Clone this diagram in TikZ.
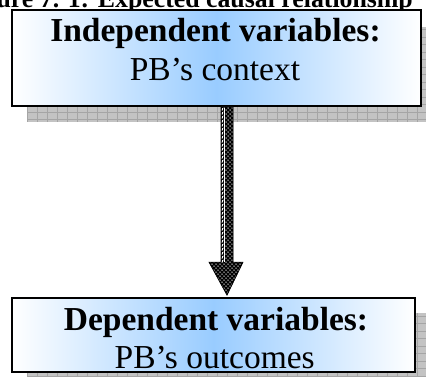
\documentclass[tikz,border=0pt]{standalone}
\usepackage{fontspec}
\setmainfont{Liberation Serif}
\usetikzlibrary{patterns,calc}
\pgfdeclarepatternformonly{wdots}{\pgfpoint{-1.5pt}{-1.5pt}}{\pgfpoint{5.5pt}{5.5pt}}{\pgfpoint{4pt}{4pt}}{%
  \pgfpathcircle{\pgfpoint{0pt}{0pt}}{0.75pt}%
  \pgfpathcircle{\pgfpoint{2pt}{2pt}}{0.75pt}%
  \pgfusepath{fill}}
\definecolor{boxblue}{RGB}{153,204,255}
\definecolor{shadowgray}{RGB}{195,195,195}
\definecolor{gridgray}{RGB}{165,165,165}
\definecolor{arrowshadow}{RGB}{128,128,128}
\tikzset{
  varbox/.style={draw=black, line width=1.6pt, left color=white, right color=white, middle color=boxblue, inner sep=0pt},
  shadowbox/.style={fill=shadowgray},
  headtext/.style={anchor=base, font=\fontsize{33.5}{39}\selectfont\bfseries},
  subtext/.style={anchor=base, font=\fontsize{33.5}{39}\selectfont},
  titletext/.style={anchor=base east, font=\fontsize{25.8}{30}\selectfont\bfseries, inner sep=0pt},
  arrowbody/.style={preaction={fill=black}, pattern=wdots, pattern color=white!85!black, draw=black, line width=0.6pt},
  arrowshade/.style={fill=arrowshadow}
}
\begin{document}
\begin{tikzpicture}[x=1pt, y=-1pt]
\useasboundingbox (0,0) rectangle (426,376);
\clip (0,0) rectangle (426,376);
% title (cut at top, as in the reference)
\node[titletext] (title) at (413,7) {Figure 7. 1: Expected causal relationship};
% shadows
\fill[shadowbox] (27,27) rectangle (440,122);
\begin{scope}
\clip (27,27) rectangle (440,122);
\foreach \x in {27,37,...,437} \draw[gridgray, line width=0.4pt] (\x,27) -- (\x,122);
\foreach \y in {29.5,37,...,122} \draw[gridgray, line width=0.4pt] (27,\y) -- (440,\y);
\end{scope}
\fill[shadowbox] (27,313) rectangle (440,390);
\begin{scope}
\clip (27,313) rectangle (440,390);
\foreach \x in {27,37,...,437} \draw[gridgray, line width=0.4pt] (\x,313) -- (\x,390);
\foreach \y in {316,323.5,...,390} \draw[gridgray, line width=0.4pt] (27,\y) -- (440,\y);
\end{scope}
% boxes
\node[varbox, minimum width=409pt, minimum height=96pt] (ind) at (216.5,58) {};
\node[varbox, minimum width=403pt, minimum height=74pt] (dep) at (213.5,335) {};
\node[headtext] (indh) at (215.5,41.7) {Independent variables:};
\node[subtext] (inds) at (215,80.7) {PB’s context};
\node[headtext] (deph) at (216,330) {Dependent variables:};
\node[subtext] (deps) at (214.7,368.5) {PB’s outcomes};
% arrow from ind to dep
\coordinate (top) at (ind.south -| 227,0);
\coordinate (tip) at ($(dep.north -| 227,0)+(0,-2)$);
\path[arrowshade, shift={(5,3)}]
  ($(top)+(-6,0)$) -- ($(top)+(6,0)$) -- ($(tip)+(6,-33)$) -- ($(tip)+(16,-33)$)
  -- (tip) -- ($(tip)+(-18,-33)$) -- ($(tip)+(-6,-33)$) -- cycle;
\path[arrowbody]
  ($(top)+(-6,0)$) -- ($(top)+(6,0)$) -- ($(tip)+(6,-33)$) -- ($(tip)+(16,-33)$)
  -- (tip) -- ($(tip)+(-18,-33)$) -- ($(tip)+(-6,-33)$) -- cycle;
\draw[white, line width=1pt] ($(top)+(-2.5,0.8)$) -- ($(tip)+(-2.5,-33.5)$);
\draw[white, line width=0.8pt, dash pattern=on 2pt off 2pt] ($(top)+(-4.8,0.8)$) -- ($(tip)+(-4.8,-33.5)$);
\end{tikzpicture}
\end{document}
